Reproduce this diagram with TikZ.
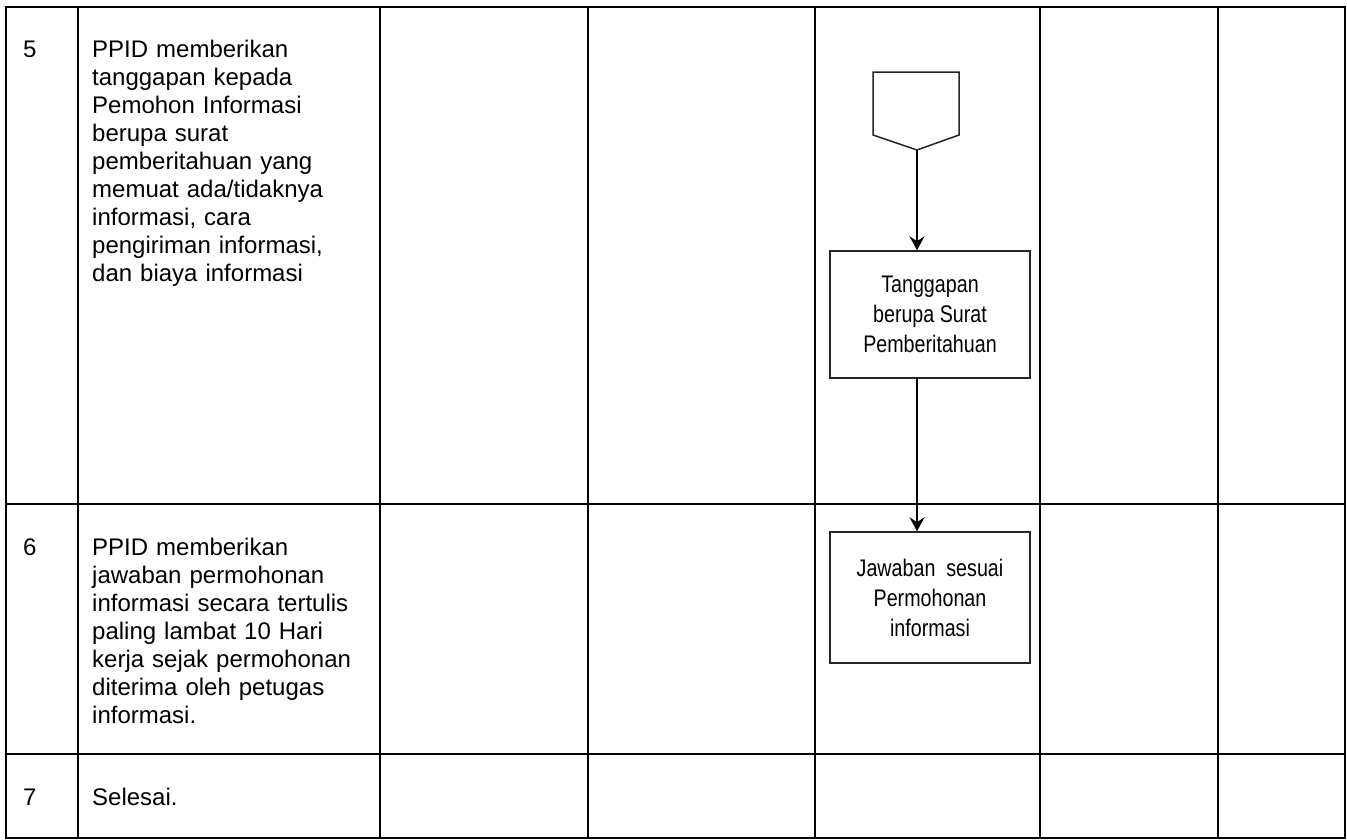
\documentclass[tikz,border=0pt]{standalone}
\usepackage{fontspec}
\setmainfont{Liberation Sans}
\newfontfamily\narrowfont[FakeStretch=0.82]{Liberation Sans}
\usetikzlibrary{arrows.meta}
\tikzset{
  grid/.style={line width=2pt, black},
  celltext/.style={anchor=base west, inner sep=0pt, align=left, text width=280pt,
    font=\fontsize{24}{28}\selectfont},
  numtext/.style={anchor=base west, inner sep=0pt, font=\fontsize{24}{28}\selectfont},
  flowbox/.style={draw=black!85, line width=1.5pt, rectangle, minimum width=200pt,
    align=center, inner sep=0pt, font=\narrowfont\fontsize{24}{30}\selectfont},
  arr/.style={line width=2pt, -{Stealth[length=14pt,width=15pt,inset=5pt]}}
}
\begin{document}
\begin{tikzpicture}[x=1pt,y=-1pt]
\useasboundingbox (0,0) rectangle (1347,839);
\fill[white] (0,0) rectangle (1347,839);
% table grid
\draw[grid] (6,7) rectangle (1345,838);
\foreach \xx in {78,380,588,815,1040,1218} \draw[grid] (\xx,7) -- (\xx,838);
\draw[grid] (6,504) -- (1345,504);
\draw[grid] (6,754) -- (1345,754);
% row numbers
\node[numtext] (n5) at (23,57) {5};
\node[numtext] (n6) at (23,555) {6};
\node[numtext] (n7) at (23,805) {7};
% descriptions
\node[celltext] (d5) at (92,57) {PPID memberikan\\tanggapan kepada\\Pemohon Informasi\\berupa surat\\pemberitahuan yang\\memuat ada/tidaknya\\informasi, cara\\pengiriman informasi,\\dan biaya informasi};
\node[celltext] (d6) at (92,555) {PPID memberikan\\jawaban permohonan\\informasi secara tertulis\\paling lambat 10 Hari\\kerja sejak permohonan\\diterima oleh petugas\\informasi.};
\node[celltext] (d7) at (92,805) {Selesai.};
% off-page connector
\draw[line width=1.5pt, black!85, line join=miter] (873,72) -- (959,72) -- (959,135) -- (917,150) -- (873,135) -- cycle;
\coordinate (pent) at (917,150);
% boxes
\node[flowbox, minimum height=127pt] (b1) at (930,314.5) {Tanggapan\\berupa Surat\\Pemberitahuan};
\node[flowbox, minimum height=131pt] (b2) at (930,597.5) {Jawaban\ \ sesuai\\Permohonan\\informasi};
% arrows
\draw[arr] (pent) -- (pent |- b1.north);
\draw[arr] (pent |- b1.south) -- (pent |- b2.north);
\end{tikzpicture}
\end{document}
